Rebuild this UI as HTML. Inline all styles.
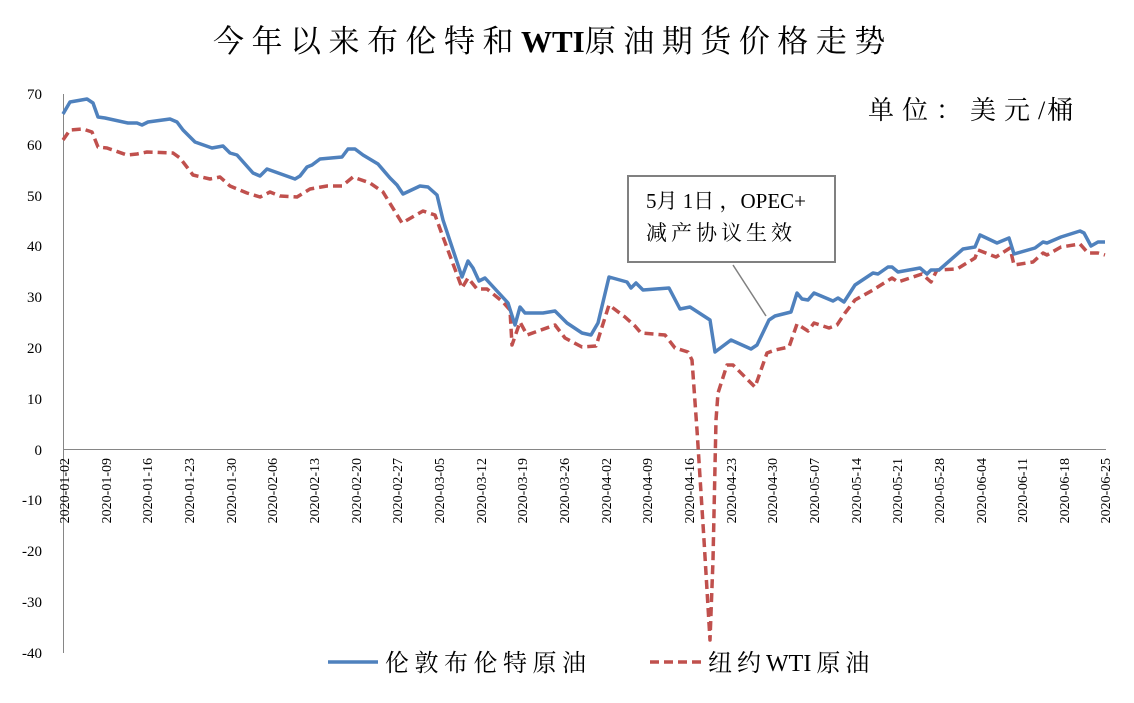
<!DOCTYPE html>
<html><head><meta charset="utf-8"><style>
body{margin:0;background:#fff;}
svg text{font-family:"Liberation Serif","Noto Serif CJK SC","Noto Sans CJK SC",serif;}
</style></head><body>
<svg width="1134" height="698" viewBox="0 0 1134 698" xmlns="http://www.w3.org/2000/svg">
<rect width="1134" height="698" fill="#fff"/>
<text x="213" y="52" font-size="31" letter-spacing="7.5" fill="#000">今年以来布伦特和<tspan font-weight="bold" letter-spacing="0">WTI</tspan>原油期货价格走势</text>
<text x="868" y="119" font-size="26" letter-spacing="8" fill="#000">单位：美元<tspan letter-spacing="2">/</tspan>桶</text>
<g stroke="#868686" stroke-width="1">
<line x1="63.5" y1="94" x2="63.5" y2="653"/>
<line x1="63" y1="449.5" x2="1106" y2="449.5"/>
</g>
<g font-size="15" text-anchor="end" fill="#000">
<text x="42" y="99">70</text><text x="42" y="150">60</text><text x="42" y="201">50</text><text x="42" y="251">40</text>
<text x="42" y="302">30</text><text x="42" y="353">20</text><text x="42" y="404">10</text><text x="42" y="455">0</text>
<text x="42" y="505">-10</text><text x="42" y="556">-20</text><text x="42" y="607">-30</text><text x="42" y="658">-40</text>
</g>
<g font-size="14" fill="#000" text-anchor="end">
<text transform="translate(69,458) rotate(-90)">2020-01-02</text>
<text transform="translate(111,458) rotate(-90)">2020-01-09</text>
<text transform="translate(152,458) rotate(-90)">2020-01-16</text>
<text transform="translate(194,458) rotate(-90)">2020-01-23</text>
<text transform="translate(236,458) rotate(-90)">2020-01-30</text>
<text transform="translate(277,458) rotate(-90)">2020-02-06</text>
<text transform="translate(319,458) rotate(-90)">2020-02-13</text>
<text transform="translate(361,458) rotate(-90)">2020-02-20</text>
<text transform="translate(402,458) rotate(-90)">2020-02-27</text>
<text transform="translate(444,458) rotate(-90)">2020-03-05</text>
<text transform="translate(486,458) rotate(-90)">2020-03-12</text>
<text transform="translate(527,458) rotate(-90)">2020-03-19</text>
<text transform="translate(569,458) rotate(-90)">2020-03-26</text>
<text transform="translate(611,458) rotate(-90)">2020-04-02</text>
<text transform="translate(652,458) rotate(-90)">2020-04-09</text>
<text transform="translate(694,458) rotate(-90)">2020-04-16</text>
<text transform="translate(736,458) rotate(-90)">2020-04-23</text>
<text transform="translate(777,458) rotate(-90)">2020-04-30</text>
<text transform="translate(819,458) rotate(-90)">2020-05-07</text>
<text transform="translate(861,458) rotate(-90)">2020-05-14</text>
<text transform="translate(902,458) rotate(-90)">2020-05-21</text>
<text transform="translate(944,458) rotate(-90)">2020-05-28</text>
<text transform="translate(986,458) rotate(-90)">2020-06-04</text>
<text transform="translate(1027,458) rotate(-90)">2020-06-11</text>
<text transform="translate(1069,458) rotate(-90)">2020-06-18</text>
<text transform="translate(1110,458) rotate(-90)">2020-06-25</text>
</g>
<polyline fill="none" stroke="#C0504D" stroke-width="3.5" stroke-dasharray="9,5" stroke-linejoin="round" points="63,140 70,130 83,129 92,132 98,147 107,148 127,155 137,154 147,152 173,153 180,158 193,175 210,179 220,177 230,186 247,193 260,197 270,192 280,196 297,197 310,189 327,186 342,186 353,177 370,183 383,192 402,223 423,211 435,215 443,237 462,288 468,278 477,289 487,289 503,302 510,310 512,345 520,322 527,335 555,325 565,338 582,347 596,346 609,305 625,317 635,326 641,333 665,335 675,348 688,352 692,360 697,430 704,540 710,640 713,560 716,420 718,393 727,365 733,365 755,387 767,353 775,350 789,347 797,324 808,331 814,323 829,328 837,325 845,313 855,300 873,290 892,278 898,282 922,274 931,282 937,270 957,269 975,258 978,250 996,257 1010,248 1014,265 1033,262 1043,253 1047,255 1061,247 1080,244 1088,253 1098,253 1105,255"/>
<polyline fill="none" stroke="#4F81BD" stroke-width="3.5" stroke-linejoin="round" points="63,114 70,102 87,99 93,103 98,117 105,118 128,123 137,123 142,125 148,122 170,119 177,122 183,130 195,142 212,148 223,146 230,153 237,155 253,173 260,176 267,169 295,179 300,176 307,167 312,165 320,159 342,157 348,149 355,149 363,155 378,164 390,178 397,185 403,194 420,186 428,187 437,195 443,220 462,277 468,261 473,268 479,281 485,278 508,303 515,325 520,307 525,313 543,313 555,311 567,323 582,333 591,335 598,323 609,277 627,282 631,288 636,283 643,290 669,288 680,309 690,307 710,320 715,352 731,340 751,349 757,345 769,320 775,316 791,312 797,293 802,299 808,300 814,293 833,301 838,298 844,302 855,285 873,273 878,274 888,267 892,267 898,272 920,268 927,274 931,270 939,270 963,249 975,247 980,235 997,243 1009,238 1014,254 1035,248 1043,242 1047,243 1061,237 1080,231 1084,233 1091,246 1098,242 1105,242"/>
<line x1="733" y1="265" x2="766" y2="316" stroke="#808080" stroke-width="1.5"/>
<rect x="628" y="176" width="207" height="86" fill="#fff" stroke="#808080" stroke-width="2"/>
<text x="646" y="208" font-size="21" fill="#000">5月 1日 ，OPEC+</text>
<text x="646" y="240" font-size="21" fill="#000" letter-spacing="4">减产协议生效</text>
<line x1="328" y1="662" x2="378" y2="662" stroke="#4F81BD" stroke-width="3.5"/>
<text x="385" y="671" font-size="24" letter-spacing="5.5" fill="#000">伦敦布伦特原油</text>
<line x1="650" y1="662" x2="702" y2="662" stroke="#C0504D" stroke-width="3.5" stroke-dasharray="9,5"/>
<text x="708" y="671" font-size="24" letter-spacing="5" fill="#000">纽约<tspan letter-spacing="0">WTI</tspan><tspan dx="5">原油</tspan></text>
</svg>
</body></html>
